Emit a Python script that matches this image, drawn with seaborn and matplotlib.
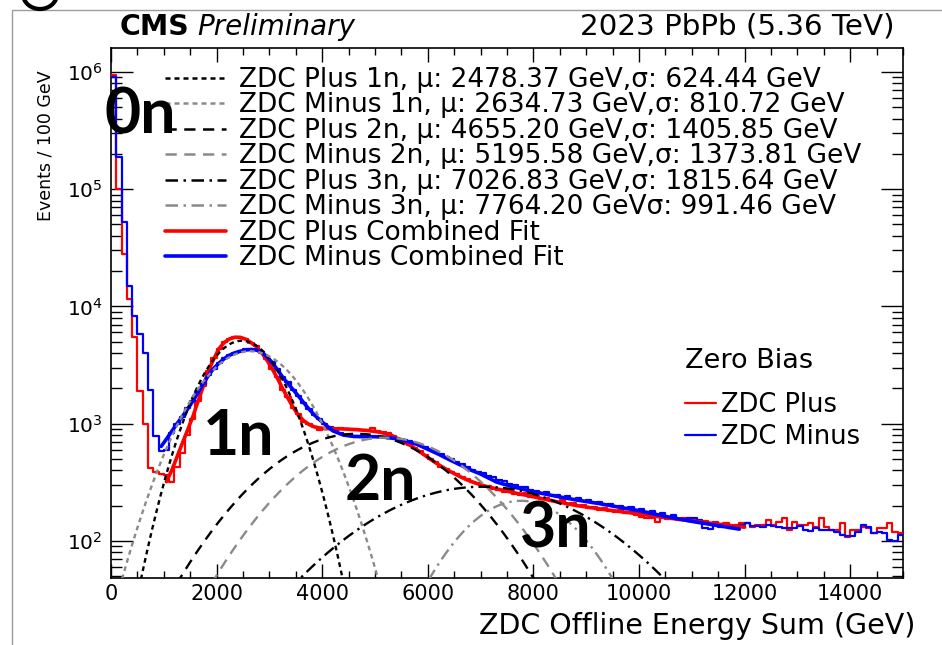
import numpy as np
import pandas as pd
import seaborn as sns
import matplotlib
matplotlib.use("Agg")
import matplotlib.pyplot as plt
from matplotlib.lines import Line2D
from matplotlib.patches import Rectangle, Ellipse
from matplotlib.ticker import MultipleLocator, LogLocator, FuncFormatter

# ---------------------------------------------------------------- data
bin_width = 100.0          # GeV per bin
x_max = 15000.0

# Zero Bias ZDC energy-sum histograms, events per 100 GeV bin (0 ... 15000 GeV)
zdc_plus = [950000, 100000, 28000, 11500, 5500, 1900, 1000, 420, 390, 370,
            365, 320, 430, 560, 800, 1100, 1550, 2100, 2800, 3650,
            4350, 4950, 5300, 5500, 5400, 5300, 4850, 4600, 4000, 3550,
            2900, 2500, 1950, 1700, 1350, 1200, 1040, 990, 930, 880,
            900, 920, 895, 910, 905, 885, 900, 875, 890, 920,
            870, 850, 830, 790, 740, 700, 660, 615, 590, 540,
            495, 470, 430, 410, 385, 372, 350, 338, 318, 312,
            292, 296, 280, 271, 262, 270, 252, 248, 256, 236,
            240, 229, 233, 221, 214, 222, 208, 212, 197, 203,
            192, 196, 184, 190, 181, 176, 184, 172, 178, 167,
            160, 158, 157, 146, 158, 154, 160, 151, 156, 147,
            150, 143, 149, 141, 146, 137, 142, 133, 138, 141,
            141, 132, 137, 137, 151, 137, 146, 156, 124, 146,
            137, 137, 141, 132, 156, 132, 124, 124, 141, 109,
            124, 124, 132, 128, 116, 128, 128, 141, 120, 116]

zdc_minus = [900000, 190000, 53000, 15000, 8300, 5800, 4000, 1950, 780, 580,
             600, 840, 1000, 1130, 1350, 1550, 1870, 2200, 2600, 2950,
             3300, 3600, 3850, 4000, 4150, 4300, 4280, 4250, 4100, 3720,
             3350, 2900, 2500, 2250, 1930, 1720, 1500, 1340, 1180, 1090,
             990, 930, 870, 830, 800, 790, 778, 770, 780, 768,
             775, 770, 760, 755, 745, 730, 708, 690, 660, 635,
             605, 580, 550, 525, 495, 470, 450, 428, 405, 390,
             380, 360, 348, 330, 325, 306, 302, 290, 288, 270,
             268, 256, 262, 245, 248, 234, 240, 226, 231, 218,
             222, 210, 216, 203, 208, 196, 200, 188, 193, 182,
             186, 175, 180, 168, 172, 160, 165, 154, 150, 158,
             157, 150, 128, 126, 142, 132, 137, 128, 131, 137,
             141, 135, 134, 132, 137, 133, 131, 128, 130, 128,
             135, 124, 122, 128, 125, 124, 124, 120, 113, 111,
             111, 120, 137, 132, 116, 120, 118, 102, 100, 112]

# combined fit curves (energy in GeV, events / 100 GeV)
fit_plus_e = [1050, 1150, 1250, 1350, 1450, 1550, 1650, 1750, 1850, 1950,
              2050, 2150, 2250, 2350, 2450, 2550, 2650, 2750, 2850, 2950,
              3050, 3150, 3250, 3350, 3450, 3550, 3650, 3750, 3850, 3950,
              4100, 4300, 4500, 4700, 4900, 5100, 5300, 5500, 5700, 5900,
              6100, 6300, 6500, 6700, 6900, 7100, 7400, 7700, 8000, 8400,
              8800, 9200, 9600, 10000, 10500, 11000, 11500, 12000]
fit_plus_n = [320, 400, 520, 680, 880, 1150, 1560, 2100, 2850, 3600,
              4400, 4950, 5300, 5460, 5450, 5260, 4920, 4550, 4050, 3500,
              2950, 2450, 2000, 1650, 1380, 1180, 1060, 985, 940, 920,
              908, 905, 898, 886, 870, 845, 800, 720, 640, 555,
              480, 420, 375, 338, 312, 292, 272, 254, 238, 218,
              201, 189, 179, 170, 158, 148, 139, 131]

fit_minus_e = [950, 1050, 1150, 1250, 1350, 1450, 1550, 1650, 1750, 1850,
               1950, 2050, 2150, 2250, 2350, 2450, 2550, 2650, 2750, 2850,
               2950, 3050, 3150, 3250, 3350, 3450, 3550, 3650, 3750, 3850,
               3950, 4050, 4200, 4400, 4600, 4800, 5000, 5200, 5400, 5600,
               5800, 6000, 6200, 6400, 6600, 6800, 7000, 7300, 7600, 8000,
               8400, 8800, 9200, 9600, 10000, 10500, 11000, 11500, 11900]
fit_minus_n = [640, 740, 860, 1000, 1150, 1330, 1560, 1850, 2200, 2600,
               2980, 3300, 3600, 3850, 4030, 4150, 4250, 4300, 4250, 4080,
               3740, 3330, 2900, 2500, 2200, 1950, 1720, 1510, 1330, 1190,
               1080, 990, 870, 800, 778, 775, 775, 765, 745, 710,
               665, 605, 550, 495, 448, 405, 372, 318, 290, 263,
               242, 224, 210, 195, 181, 162, 147, 135, 126]

# Gaussian neutron-peak components: label, mean, width, peak height
comp_labels = ["ZDC Plus 1n, \u03bc: 2478.37 GeV,\u03c3: 624.44 GeV",
               "ZDC Minus 1n, \u03bc: 2634.73 GeV,\u03c3: 810.72 GeV",
               "ZDC Plus 2n, \u03bc: 4655.20 GeV,\u03c3: 1405.85 GeV",
               "ZDC Minus 2n, \u03bc: 5195.58 GeV,\u03c3: 1373.81 GeV",
               "ZDC Plus 3n, \u03bc: 7026.83 GeV,\u03c3: 1815.64 GeV",
               "ZDC Minus 3n, \u03bc: 7764.20 GeV\u03c3: 991.46 GeV"]
comp_mu = [2478.37, 2634.73, 4655.20, 5195.58, 7026.83, 7764.20]
comp_sigma = [624.44, 810.72, 1405.85, 1373.81, 1815.64, 991.46]
comp_amp = [5100, 4150, 820, 760, 290, 220]

# ---------------------------------------------------------------- style
sns.set_style("ticks")
plt.rcParams["font.family"] = ["DejaVu Sans"]
plt.rcParams["mathtext.default"] = "regular"
plt.rcParams["text.color"] = "black"
plt.rcParams["axes.labelcolor"] = "black"
plt.rcParams["xtick.color"] = "black"
plt.rcParams["ytick.color"] = "black"

RED = "#ff0000"
BLUE = "#0000ff"
GREY = "#8a8a8a"
comp_colors = ["black", GREY, "black", GREY, "black", GREY]
comp_dash = [(0, (2.0, 1.6)), (0, (2.0, 1.6)),
             (0, (4.5, 3.0)), (0, (4.5, 3.0)),
             (0, (5.0, 2.2, 1.0, 2.2)), (0, (5.0, 2.2, 1.0, 2.2))]

W, H = 942, 645
fig = plt.figure(figsize=(W / 100, H / 100), dpi=100)
fig.patch.set_facecolor("white")

# slide frame around the plot
fig.patches.append(Rectangle((12 / W, -0.01), 1.0, 1.01 - 10 / H,
                             transform=fig.transFigure, facecolor="white",
                             edgecolor="#9c9c9c", linewidth=1.0, zorder=-2))
fig.patches.append(Ellipse((40 / W, 1 + 6 / H), 34 / W, 30 / H,
                           transform=fig.transFigure, facecolor="none",
                           edgecolor="black", linewidth=3.0, zorder=-1))

ax = fig.add_axes([111 / W, 1 - 578 / H, 792 / W, 530 / H])
ax.set_facecolor("none")

centers = np.arange(len(zdc_plus)) * bin_width + bin_width / 2

sns.histplot(x=centers, weights=zdc_plus, binwidth=bin_width, binrange=(0, x_max),
             element="step", fill=False, color=RED, linewidth=1.6, ax=ax, zorder=3)
sns.histplot(x=centers, weights=zdc_minus, binwidth=bin_width, binrange=(0, x_max),
             element="step", fill=False, color=BLUE, linewidth=1.6, ax=ax, zorder=3)

sns.lineplot(x=fit_plus_e, y=fit_plus_n, color=RED, linewidth=2.6,
             estimator=None, sort=False, ax=ax, zorder=4)
sns.lineplot(x=fit_minus_e, y=fit_minus_n, color=BLUE, linewidth=2.6,
             estimator=None, sort=False, ax=ax, zorder=4)

grid = np.linspace(0, x_max, 1501)
for mu, sig, amp, col, ls in zip(comp_mu, comp_sigma, comp_amp, comp_colors, comp_dash):
    g = amp * np.exp(-0.5 * ((grid - mu) / sig) ** 2)
    sns.lineplot(x=grid, y=g, color=col, linewidth=1.7, linestyle=ls,
                 estimator=None, sort=False, ax=ax, zorder=5)

ax.set_yscale("log")
ax.set_xlim(0, x_max)
ax.set_ylim(48.3, 1.6e6)

# axes ticks
ax.xaxis.set_major_locator(MultipleLocator(2000))
ax.xaxis.set_minor_locator(MultipleLocator(500))
ax.yaxis.set_major_locator(LogLocator(base=10, numticks=12))
ax.yaxis.set_minor_locator(LogLocator(base=10, subs=np.arange(2, 10), numticks=12))
ax.yaxis.set_major_formatter(FuncFormatter(lambda v, p: r"$10^{%d}$" % round(np.log10(v))))
ax.tick_params(axis="both", which="both", direction="in", top=True, right=True,
               colors="black", width=1.0)
ax.tick_params(axis="x", which="major", length=10, labelsize=15, pad=4)
ax.tick_params(axis="x", which="minor", length=5)
ax.tick_params(axis="y", which="major", length=16, labelsize=14.5, pad=6)
ax.tick_params(axis="y", which="minor", length=8)
for s in ax.spines.values():
    s.set_linewidth(1.2)
    s.set_color("black")

ax.set_xlabel("ZDC Offline Energy Sum (GeV)", fontsize=20.5, loc="right")
ax.xaxis.set_label_coords((915 - 111) / 792, -0.065)
ax.set_ylabel("Events / 100 GeV", fontsize=12.5, loc="top")
ax.yaxis.set_label_coords((55 - 111) / 792, (578 - 70) / 530)

# header
fig.text(120 / W, 1 - 35 / H, "CMS", fontsize=20.5, fontweight="bold", ha="left", va="baseline")
fig.text(197 / W, 1 - 35 / H, "Preliminary", fontsize=20, fontstyle="italic", ha="left", va="baseline")
fig.text(895 / W, 1 - 35 / H, "2023 PbPb (5.36 TeV)", fontsize=21.2, ha="right", va="baseline")

# fit legend
fit_handles = [Line2D([], [], color=c, linestyle=ls, linewidth=1.8)
               for c, ls in zip(comp_colors, comp_dash)]
fit_handles += [Line2D([], [], color=RED, linewidth=2.6),
                Line2D([], [], color=BLUE, linewidth=2.6)]
fit_labels = comp_labels + ["ZDC Plus Combined Fit", "ZDC Minus Combined Fit"]
leg1 = ax.legend(fit_handles, fit_labels, loc="upper left",
                 bbox_to_anchor=((165 - 111) / 792, (578 - 67) / 530),
                 frameon=False, fontsize=19, handlelength=2.3, handletextpad=0.5,
                 labelspacing=-0.02, borderpad=0, borderaxespad=0)
ax.add_artist(leg1)

# data legend
data_handles = [Line2D([], [], color=RED, linewidth=1.6),
                Line2D([], [], color=BLUE, linewidth=1.6)]
leg2 = ax.legend(data_handles, ["ZDC Plus", "ZDC Minus"], title="Zero Bias",
                 loc="upper left", bbox_to_anchor=((685 - 111) / 792, (578 - 348) / 530),
                 frameon=False, fontsize=18.5, title_fontsize=19.5,
                 handlelength=1.2, handletextpad=0.2, labelspacing=0.22,
                 borderpad=0, borderaxespad=0, alignment="left")
leg2._legend_box.sep = 13

# multiplicity annotations
for txt, xp, yp in [("0n", 105, 133), ("1n", 203, 455), ("2n", 345, 500), ("3n", 520, 548)]:
    fig.text(xp / W, 1 - yp / H, txt, fontsize=45, fontweight="bold", color="black",
             family=["Lato", "DejaVu Sans"], ha="left", va="baseline", zorder=10)

fig.savefig("out.png", dpi=100)
